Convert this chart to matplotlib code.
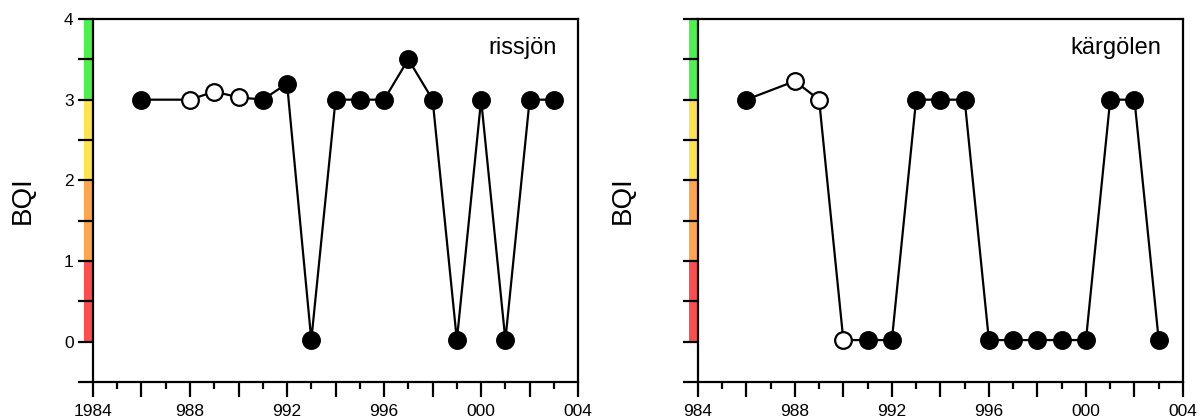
import matplotlib
matplotlib.use("Agg")
import matplotlib.pyplot as plt
from matplotlib.patches import Rectangle
from matplotlib.ticker import FixedLocator, FixedFormatter

plt.rcParams["font.family"] = ["Liberation Sans", "DejaVu Sans"]

# BQI per year for each lake; filled = True for solid markers
riss_years = [1986, 1988, 1989, 1990, 1991, 1992, 1993, 1994, 1995, 1996,
              1997, 1998, 1999, 2000, 2001, 2002, 2003]
riss_bqi = [3.0, 3.0, 3.1, 3.03, 3.0, 3.2, 0.02, 3.0, 3.0, 3.0,
            3.5, 3.0, 0.02, 3.0, 0.02, 3.0, 3.0]
riss_filled = [True, False, False, False, True, True, True, True, True, True,
               True, True, True, True, True, True, True]

karg_years = [1986, 1988, 1989, 1990, 1991, 1992, 1993, 1994, 1995, 1996,
              1997, 1998, 1999, 2000, 2001, 2002, 2003]
karg_bqi = [3.0, 3.23, 3.0, 0.02, 0.02, 0.02, 3.0, 3.0, 3.0, 0.02,
            0.02, 0.02, 0.02, 0.02, 3.0, 3.0, 0.02]
karg_filled = [True, False, False, False, True, True, True, True, True, True,
               True, True, True, True, True, True, True]

# quality classes shown as a coloured strip along the y axis
class_bounds = [0, 1, 2, 3, 4]
class_colors = ["#ff4d4d", "#ffa64d", "#ffe34d", "#4cf24c"]

x_major = [1984, 1986, 1988, 1990, 1992, 1994, 1996, 1998, 2000, 2002, 2004]
x_minor = [1985, 1987, 1989, 1991, 1993, 1995, 1997, 1999, 2001, 2003]
left_xlabels = ["1984", "", "988", "", "992", "", "996", "", "000", "", "004"]
right_xlabels = ["984", "", "988", "", "992", "", "996", "", "000", "", "004"]
y_ticks = [-0.5, 0, 0.5, 1, 1.5, 2, 2.5, 3, 3.5, 4]
y_labels = ["", "0", "", "1", "", "2", "", "3", "", "4"]


def draw_panel(ax, years, bqi, filled, name, xlabels, show_ylabels):
    ax.plot(years, bqi, color="black", lw=1.6, zorder=2)
    for x, y, f in zip(years, bqi, filled):
        ax.plot(x, y, "o", ms=12, mec="black", mew=1.6,
                mfc="black" if f else "white", zorder=3)

    ax.set_xlim(1984, 2004)
    ax.set_ylim(-0.5, 4)

    strip_w = 0.018
    for lo, hi, c in zip(class_bounds[:-1], class_bounds[1:], class_colors):
        ax.add_patch(Rectangle((-strip_w, lo), strip_w, hi - lo, color=c,
                               transform=ax.get_yaxis_transform(),
                               clip_on=False, zorder=1, lw=0))

    ax.xaxis.set_major_locator(FixedLocator(x_major))
    ax.xaxis.set_major_formatter(FixedFormatter(xlabels))
    ax.xaxis.set_minor_locator(FixedLocator(x_minor))
    ax.yaxis.set_major_locator(FixedLocator(y_ticks))
    if show_ylabels:
        ax.yaxis.set_major_formatter(FixedFormatter(y_labels))
    else:
        ax.set_yticklabels([])

    ax.tick_params(axis="both", which="major", direction="out", length=11,
                   width=1.6, labelsize=12.5, pad=3)
    ax.tick_params(axis="x", which="major", pad=5)
    ax.tick_params(axis="x", which="minor", direction="out", length=5,
                   width=1.6)
    for sp in ax.spines.values():
        sp.set_linewidth(1.6)

    ax.set_ylabel("BQI", fontsize=20, labelpad=20 if show_ylabels else 31)
    ax.text(0.955, 0.92, name, transform=ax.transAxes, ha="right",
            va="center", fontsize=17)


fig = plt.figure(figsize=(12.01, 4.16), dpi=100)
ax1 = fig.add_axes([0.0774, 0.0817, 0.404, 0.8726])
ax2 = fig.add_axes([0.581, 0.0817, 0.404, 0.8726])

draw_panel(ax1, riss_years, riss_bqi, riss_filled, "rissjön", left_xlabels, True)
draw_panel(ax2, karg_years, karg_bqi, karg_filled, "kärgölen", right_xlabels, False)

fig.savefig("out.png", dpi=100)
